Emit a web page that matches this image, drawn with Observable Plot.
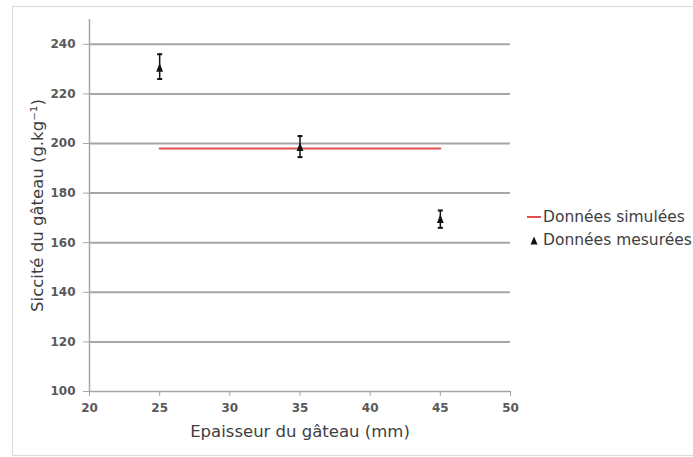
<!DOCTYPE html>
<html><head><meta charset="utf-8">
<script src="https://cdn.jsdelivr.net/npm/d3@7"></script>
<script src="https://cdn.jsdelivr.net/npm/@observablehq/plot@0.6"></script>
<style>
html,body{margin:0;padding:0;background:#fff;}
#wrap{position:relative;width:693px;height:457px;overflow:hidden;font-family:"DejaVu Sans",sans-serif;}
#frame{position:absolute;left:12px;top:6px;width:700px;height:450px;border:1px solid #dadada;box-sizing:border-box;}
#chart{position:absolute;left:0;top:0;}
.leg{position:absolute;left:0;top:0;font-size:15.5px;color:#404040;white-space:nowrap;}
.leg div{position:absolute;white-space:nowrap;line-height:16px;}
</style></head>
<body><div id="wrap"><div id="frame"></div><div id="chart"></div><div class="leg" id="leg"></div></div>
<script>
const thickness = [25, 35, 45];
const measured = [230.5, 198.5, 169.5];
const errLow = [226, 194.5, 166];
const errHigh = [236, 203, 173];
const simX = [25, 45];
const simY = [198, 198];
const xTicks = [20, 25, 30, 35, 40, 45, 50];
const yTicks = [100, 120, 140, 160, 180, 200, 220, 240];
const gridTicks = [120, 140, 160, 180, 200, 220, 240];
const labels = {x: "Epaisseur du gâteau (mm)", y: "Siccité du gâteau (g.kg⁻¹)", sim: "Données simulées", mes: "Données mesurées"};

const meas = thickness.map((t, i) => ({x: t, y: measured[i], lo: errLow[i], hi: errHigh[i]}));
const sim = simX.map((t, i) => ({x: t, y: simY[i]}));
const cap = {draw(ctx, size) { const r = Math.sqrt(size / Math.PI); ctx.moveTo(-r, 0); ctx.lineTo(r, 0); }};
const tri = {draw(ctx, size) { const r = Math.sqrt(size / Math.PI); ctx.moveTo(0, -r * 1.2); ctx.lineTo(r * 0.85, r * 0.95); ctx.lineTo(-r * 0.85, r * 0.95); ctx.closePath(); }};
const grey = "#a6a6a6";

const plot = Plot.plot({
  width: 693, height: 457,
  marginLeft: 89, marginRight: 183, marginTop: 19, marginBottom: 66,
  style: {fontFamily: "'DejaVu Sans', sans-serif", background: "transparent", color: "#404040"},
  x: {domain: [20, 50]},
  y: {domain: [100, 250]},
  marks: [
    Plot.ruleY(gridTicks, {stroke: grey, strokeWidth: 2, x1: 20, x2: 50}),
    Plot.ruleX([20], {stroke: grey, strokeWidth: 1.5}),
    Plot.ruleY([100], {stroke: grey, strokeWidth: 1.5, x1: 20, x2: 50}),
    Plot.axisX({ticks: xTicks, tickSize: 5, tickPadding: 7, stroke: grey, fontSize: 12, fontWeight: "bold", fill: "#595959", label: labels.x, labelAnchor: "center", labelArrow: "none", labelOffset: 45}),
    Plot.axisY({ticks: yTicks, tickSize: 6, tickPadding: 8, stroke: grey, fontSize: 12, fontWeight: "bold", fill: "#595959", label: labels.y, labelAnchor: "center", labelArrow: "none", labelOffset: 58}),
    Plot.line(sim, {x: "x", y: "y", stroke: "#e0504f", strokeWidth: 2}),
    Plot.ruleX(meas, {x: "x", y1: "lo", y2: "hi", stroke: "#111", strokeWidth: 1.5}),
    Plot.dot(meas, {x: "x", y: "lo", symbol: cap, r: 2.5, stroke: "#111", strokeWidth: 2}),
    Plot.dot(meas, {x: "x", y: "hi", symbol: cap, r: 2.5, stroke: "#111", strokeWidth: 2}),
    Plot.dot(meas, {x: "x", y: "y", symbol: tri, r: 4, fill: "#111", stroke: "none"})
  ]
});
document.getElementById("chart").appendChild(plot);
d3.select(plot).selectAll('g[aria-label="x-axis label"] text, g[aria-label="y-axis label"] text')
  .style("font-size", "16.5px").style("font-weight", "normal").style("fill", "#404040");

const leg = document.getElementById("leg");
leg.innerHTML = `
<div style="left:527px;top:216px;width:14px;height:0;border-top:2px solid #e0504f"></div>
<div style="left:543px;top:209px">${labels.sim}</div>
<svg style="position:absolute;left:530px;top:236px" width="8" height="9"><path d="M4,0.5 L7.5,8.5 L0.5,8.5 Z" fill="#111"/></svg>
<div style="left:543px;top:232px">${labels.mes}</div>`;
</script></body></html>
